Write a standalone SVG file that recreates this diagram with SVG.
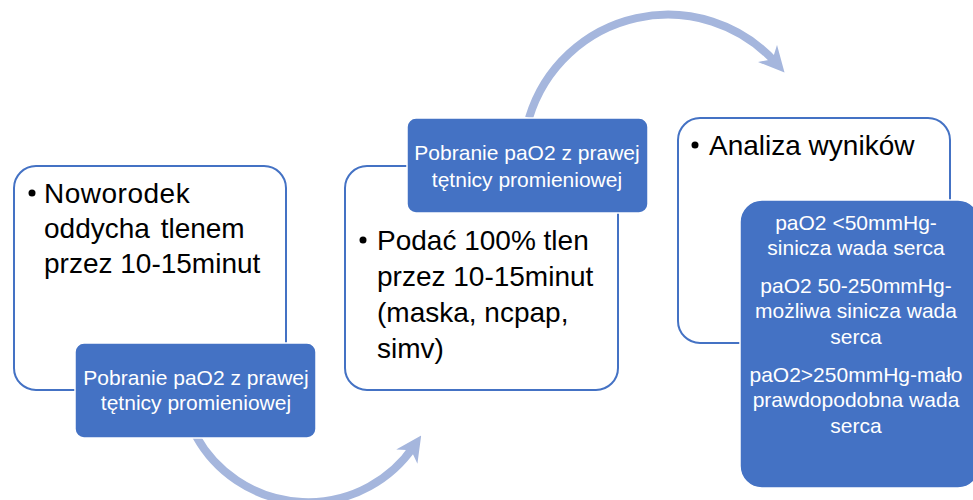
<svg xmlns="http://www.w3.org/2000/svg" width="973" height="500" viewBox="0 0 973 500">
<style>
.box{fill:#fff;stroke:#4472c4;stroke-width:2}
.lbl{fill:#4472c4;stroke:#fff;stroke-width:1.5}
.t{font-family:"Liberation Sans",Arial,sans-serif;font-size:28px;fill:#000}
.w{font-family:"Liberation Sans",Arial,sans-serif;font-size:21px;fill:#fff;text-anchor:middle}
.arc{fill:none;stroke:#a5b6dd;stroke-width:8}
</style>
<defs>
<marker id="ah" viewBox="0 0 10 10" refX="5" refY="5" markerWidth="3.2" markerHeight="3.2" orient="auto" markerUnits="strokeWidth">
<path d="M0,0 L10,5 L0,10 L3,5 Z" fill="#a5b6dd"/>
</marker>
</defs>
<rect width="973" height="500" fill="#fff"/>
<g id="connectors">
<path class="arc" d="M196,436 A128 128 0 0 0 414,446" marker-end="url(#ah)"/>
<path class="arc" d="M529,118 A145 145 0 0 1 776,63" marker-end="url(#ah)"/>
</g>
<g id="node1">
<rect class="box" x="14" y="166" width="272" height="224" rx="22"/>
<circle cx="32" cy="193" r="3.5" fill="#000"/>
<text class="t" x="44" y="203" letter-spacing="0.5">Noworodek</text>
<text class="t" x="44" y="238" word-spacing="3">oddycha tlenem</text>
<text class="t" x="44" y="273">przez 10-15minut</text>
</g>
<g id="label1">
<rect class="lbl" x="75" y="343" width="241" height="95" rx="9"/>
<text class="w" x="196" y="385">Pobranie paO2 z prawej</text>
<text class="w" x="196" y="410">tętnicy promieniowej</text>
</g>
<g id="node2">
<rect class="box" x="345" y="166" width="273" height="224" rx="22"/>
<circle cx="363" cy="240" r="3.5" fill="#000"/>
<text class="t" x="377" y="250">Podać 100% tlen</text>
<text class="t" x="377" y="286">przez 10-15minut</text>
<text class="t" x="377" y="322">(maska, ncpap,</text>
<text class="t" x="377" y="358">simv)</text>
</g>
<g id="label2">
<rect class="lbl" x="407" y="118" width="241" height="95" rx="9"/>
<text class="w" x="527" y="160">Pobranie paO2 z prawej</text>
<text class="w" x="527" y="187">tętnicy promieniowej</text>
</g>
<g id="node3">
<rect class="box" x="678" y="118" width="272" height="225" rx="22"/>
<circle cx="695" cy="145" r="3.5" fill="#000"/>
<text class="t" x="709" y="155">Analiza wyników</text>
</g>
<g id="label3">
<rect class="lbl" x="740" y="200" width="240" height="288" rx="22"/>
<text class="w" x="856" y="230">paO2 &lt;50mmHg-</text>
<text class="w" x="856" y="255">sinicza wada serca</text>
<text class="w" x="856" y="293">paO2 50-250mmHg-</text>
<text class="w" x="856" y="318">możliwa sinicza wada</text>
<text class="w" x="856" y="344">serca</text>
<text class="w" x="856" y="382">paO2&gt;250mmHg-mało</text>
<text class="w" x="856" y="407">prawdopodobna wada</text>
<text class="w" x="856" y="433">serca</text>
</g>
</svg>
